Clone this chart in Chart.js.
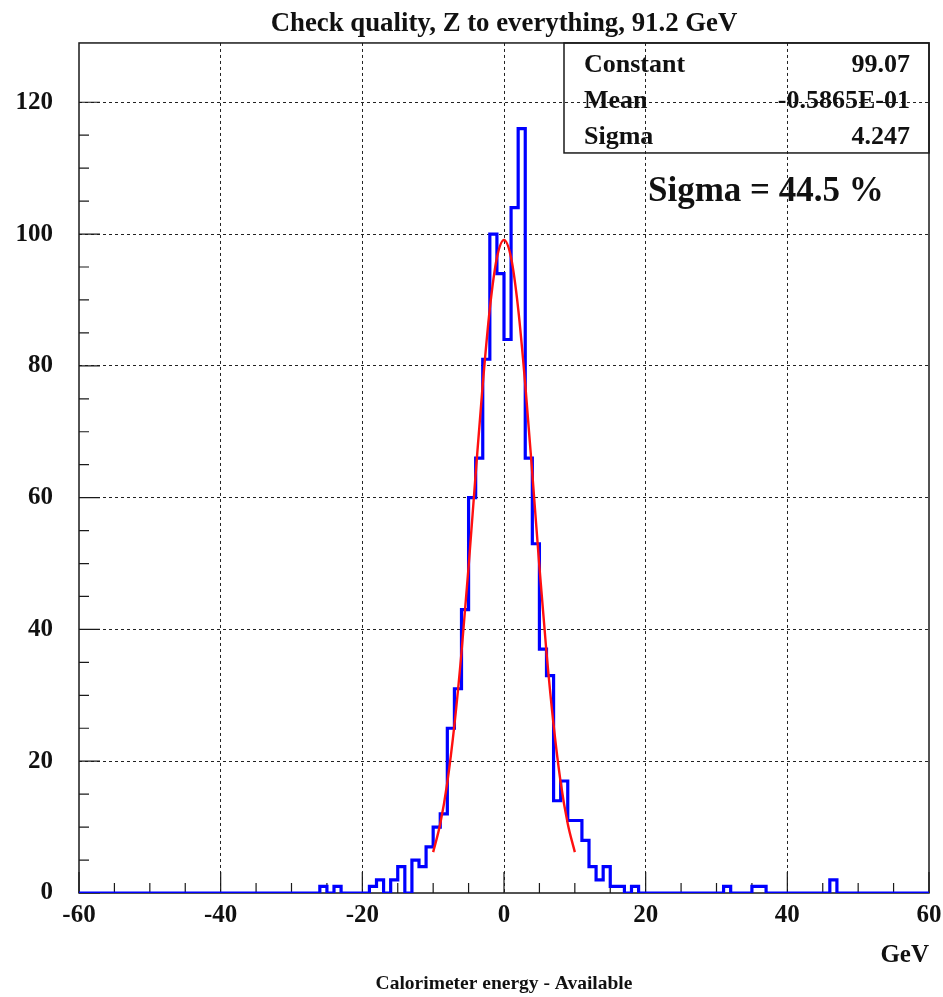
<!DOCTYPE html>
<html>
<head>
<meta charset="utf-8">
<script src="https://cdn.jsdelivr.net/npm/chart.js@4.4.0/dist/chart.umd.min.js"></script>
<style>
html,body{margin:0;padding:0;background:#fff;}
#wrap{width:943px;height:997px;position:relative;}
</style>
</head>
<body>
<div id="wrap"><canvas id="c" width="943" height="997"></canvas></div>
<script>
// ---- data ----
const histLow = -60;
const histHigh = 60;
const binWidth = 1;
// counts of the 120 bins of width 1 GeV, from [-60,-59] to [59,60]
const counts = [
  0,0,0,0,0,0,0,0,0,0,        // -60 .. -51
  0,0,0,0,0,0,0,0,0,0,        // -50 .. -41
  0,0,0,0,0,0,0,0,0,0,        // -40 .. -31
  0,0,0,0,1,0,1,0,0,0,        // -30 .. -21
  0,1,2,0,2,4,0,5,4,7,        // -20 .. -11
  10,12,25,31,43,60,66,81,100,94, // -10 .. -1
  84,104,116,66,53,37,33,14,17,11, // 0 .. 9
  11,8,4,2,4,1,1,0,1,0,       // 10 .. 19
  0,0,0,0,0,0,0,0,0,0,        // 20 .. 29
  0,1,0,0,0,1,1,0,0,0,        // 30 .. 39
  0,0,0,0,0,0,2,0,0,0,        // 40 .. 49
  0,0,0,0,0,0,0,0,0,0         // 50 .. 59
];
// red fit curve
const fitX = [-10,-9,-8,-7,-6,-5,-4,-3,-2,-1,0,1,2,3,4,5,6,7,8,9,10];
const fitY = [6.2,10.5,16.8,25.5,36.5,49.5,63.6,77.2,88.7,96.4,99.1,96.4,88.7,77.2,63.6,49.5,36.5,25.5,16.8,10.5,6.2];

const xMin = -60, xMax = 60, xStep = 5, xLabelStep = 20;
const yMin = 0, yMax = 129, yStep = 5, yLabelStep = 20, yGridMax = 120;

const titleText = 'Check quality, Z to everything, 91.2 GeV';
const xAxisTitle = 'Calorimeter energy - Available';
const xUnit = 'GeV';
const statLabels = ['Constant', 'Mean', 'Sigma'];
const statValues = ['99.07', '-0.5865E-01', '4.247'];
const noteText = 'Sigma = 44.5 %';

// ---- build datasets ----
const histPoints = counts.map((c, i) => ({x: histLow + i * binWidth, y: c}));
histPoints.push({x: histHigh, y: counts[counts.length - 1]});
const fitPoints = fitX.map((x, i) => ({x: x, y: fitY[i]}));

const FONT = "'Liberation Serif', 'Times New Roman', serif";

const framePlugin = {
  id: 'frameTicks',
  beforeDatasetsDraw(chart) {
    const {ctx, chartArea: a, scales: {x, y}} = chart;
    ctx.save();
    ctx.strokeStyle = '#1a1a1a';
    ctx.lineWidth = 1.5;
    ctx.strokeRect(a.left, a.top, a.right - a.left, a.bottom - a.top);
    ctx.lineWidth = 1.2;
    ctx.beginPath();
    y.ticks.forEach(t => {
      if (t.value % yStep !== 0) return;
      const p = y.getPixelForValue(t.value);
      const len = (t.value % yLabelStep === 0) ? 21 : 10;
      ctx.moveTo(a.left, p); ctx.lineTo(a.left + len, p);
    });
    x.ticks.forEach(t => {
      if (t.value % xStep !== 0) return;
      const p = x.getPixelForValue(t.value);
      const len = (t.value % xLabelStep === 0) ? 21 : 10;
      ctx.moveTo(p, a.bottom); ctx.lineTo(p, a.bottom - len);
    });
    ctx.stroke();
    ctx.restore();
  },
  afterDraw(chart) {
    const {ctx, chartArea: a} = chart;
    ctx.save();
    const bx = a.right - 365, by = a.top, bw = 365, bh = 110;
    ctx.strokeStyle = '#1a1a1a';
    ctx.lineWidth = 1.5;
    ctx.strokeRect(bx, by, bw, bh);
    ctx.fillStyle = '#111';
    ctx.font = 'bold 26px ' + FONT;
    ctx.textBaseline = 'middle';
    statLabels.forEach((lab, i) => {
      const ty = by + 22 + i * 36;
      ctx.textAlign = 'left';
      ctx.fillText(lab, bx + 20, ty);
      ctx.textAlign = 'right';
      ctx.fillText(statValues[i], a.right - 19, ty);
    });
    ctx.font = 'bold 35px ' + FONT;
    ctx.textAlign = 'left';
    ctx.fillText(noteText, bx + 84, by + 149);
    ctx.restore();
  }
};

new Chart(document.getElementById('c'), {
  type: 'line',
  data: {
    datasets: [
      {
        label: 'fit',
        data: fitPoints,
        borderColor: '#ff1010',
        borderWidth: 2.4,
        pointRadius: 0,
        cubicInterpolationMode: 'monotone',
        fill: false,
        order: 0
      },
      {
        label: 'histogram',
        data: histPoints,
        borderColor: '#0000ff',
        borderWidth: 3.2,
        pointRadius: 0,
        stepped: true,
        fill: false,
        order: 1
      }
    ]
  },
  options: {
    responsive: false,
    animation: false,
    devicePixelRatio: 1,
    layout: {padding: {left: 0, right: 14, top: 0, bottom: 0}},
    plugins: {
      legend: {display: false},
      tooltip: {enabled: false},
      title: {
        display: true,
        fullSize: false,
        text: titleText,
        color: '#111',
        font: {family: FONT, size: 26.8, weight: 'bold'},
        padding: {top: 8, bottom: 2.8}
      },
      subtitle: {
        display: true,
        fullSize: false,
        position: 'bottom',
        text: xAxisTitle,
        color: '#111',
        font: {family: FONT, size: 19.5, weight: 'bold'},
        padding: {top: 4, bottom: 1}
      }
    },
    scales: {
      x: {
        type: 'linear',
        min: xMin, max: xMax,
        afterFit(s) { s.height = 75.6; s.paddingLeft = 0; s.paddingRight = 0; },
        ticks: {
          stepSize: xStep,
          autoSkip: false,
          maxRotation: 0,
          padding: 8,
          color: '#111',
          font: {family: FONT, size: 25, weight: 'bold'},
          callback: v => (v % xLabelStep === 0 ? String(v) : '')
        },
        grid: {
          drawTicks: false,
          lineWidth: 1,
          color: c => (c.tick && c.tick.value % xLabelStep === 0 && c.tick.value > xMin && c.tick.value < xMax) ? '#222' : 'rgba(0,0,0,0)'
        },
        border: {display: false, dash: [3, 3]},
        title: {
          display: true,
          text: xUnit,
          align: 'end',
          color: '#111',
          font: {family: FONT, size: 25, weight: 'bold', lineHeight: 1},
          padding: {top: 0, bottom: 0.1}
        }
      },
      y: {
        type: 'linear',
        min: yMin, max: yMax,
        afterFit(s) { s.width = 79; s.paddingTop = 0; s.paddingBottom = 0; },
        ticks: {
          stepSize: yStep,
          autoSkip: false,
          padding: 26,
          color: '#111',
          font: {family: FONT, size: 25, weight: 'bold'},
          callback: v => (v % yLabelStep === 0 ? String(v) : '')
        },
        grid: {
          drawTicks: false,
          lineWidth: 1,
          color: c => (c.tick && c.tick.value % yLabelStep === 0 && c.tick.value > yMin && c.tick.value <= yGridMax) ? '#222' : 'rgba(0,0,0,0)'
        },
        border: {display: false, dash: [3, 3]}
      }
    }
  },
  plugins: [framePlugin]
});
</script>
</body>
</html>
